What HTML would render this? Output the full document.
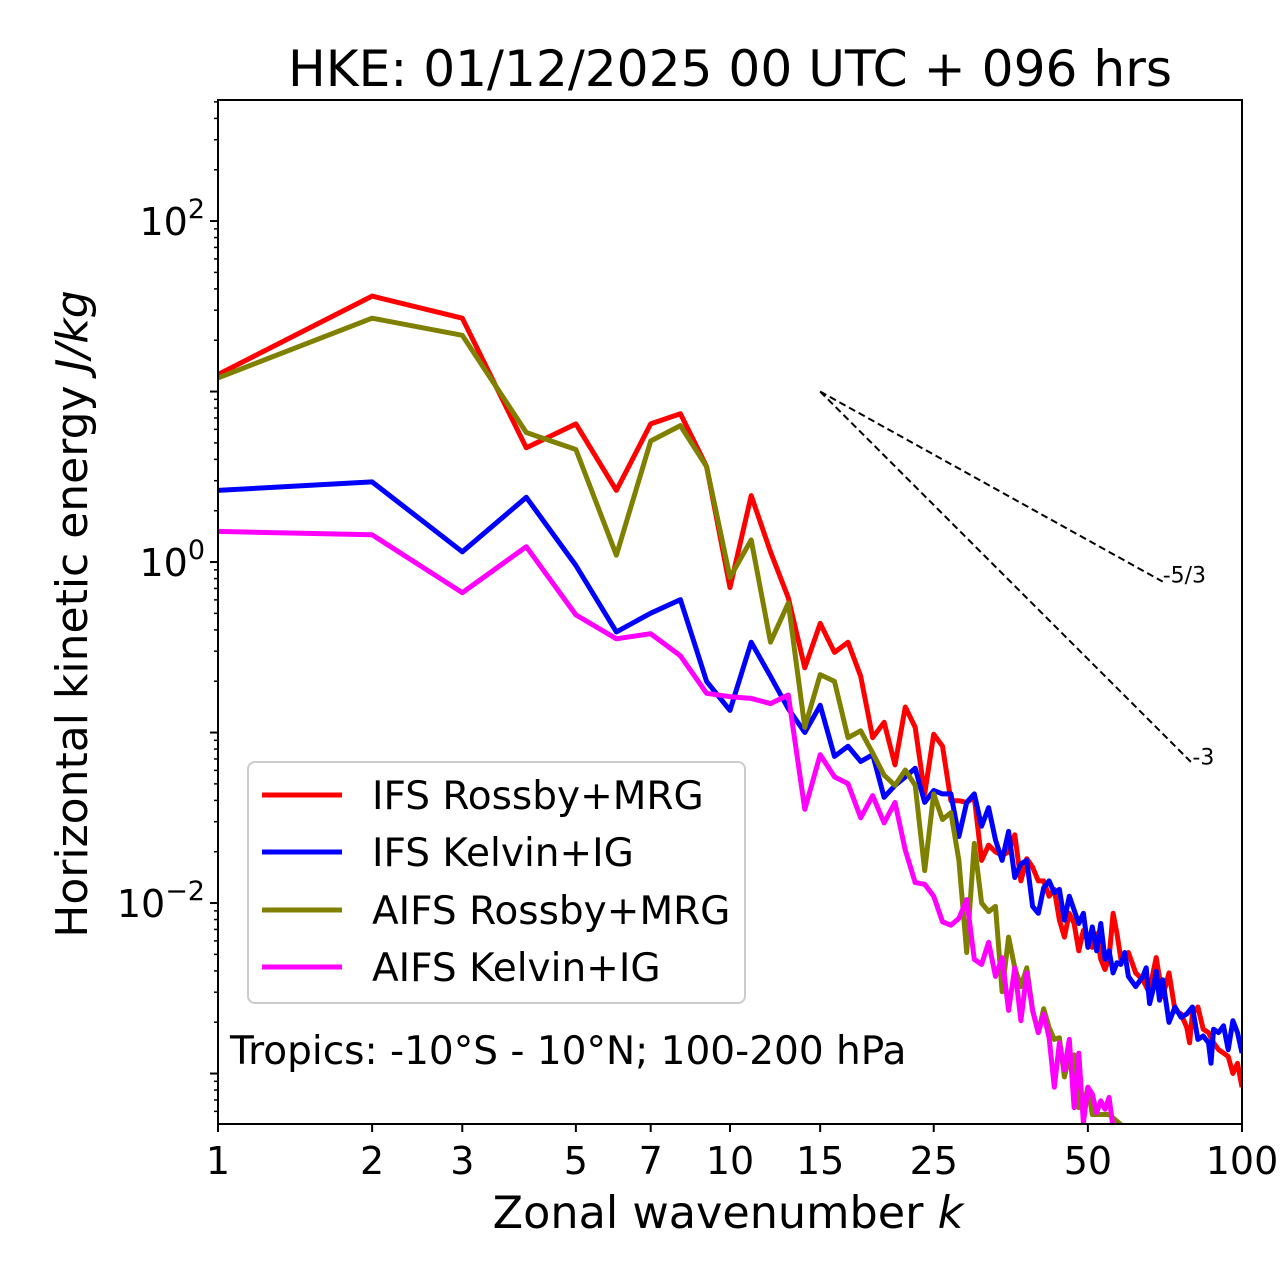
<!DOCTYPE html>
<html><head><meta charset="utf-8"><style>
html,body{margin:0;padding:0;background:#fff;}
svg{display:block;font-family:"DejaVu Sans","Liberation Sans",sans-serif;}
</style></head><body>
<svg id="chart" width="1280" height="1288" viewBox="0 0 1280 1288" xmlns="http://www.w3.org/2000/svg">
<rect width="1280" height="1288" fill="#fff"/>
<text x="730" y="86" font-size="50.2" text-anchor="middle">HKE: 01/12/2025 00 UTC + 096 hrs</text>
<g id="ticks"></g>
<g id="series" clip-path="url(#clip)"></g>
<defs><clipPath id="clip"><rect x="218" y="100" width="1024" height="1024"/></clipPath></defs>
<g id="refs"></g>
<rect x="218" y="100" width="1024" height="1024" fill="none" stroke="#000" stroke-width="2"/>
<text x="728" y="1228" font-size="44.5" text-anchor="middle">Zonal wavenumber <tspan font-style="italic">k</tspan></text>
<text transform="translate(87,614) rotate(-90)" font-size="44" text-anchor="middle">Horizontal kinetic energy <tspan font-style="italic">J/kg</tspan></text>
<g>
<rect x="248" y="762" width="497" height="241" rx="7" fill="#fff" fill-opacity="0.8" stroke="#ccc" stroke-width="2"/>
<g id="legend-items"></g>
</g>
<text x="230" y="1064" font-size="39">Tropics: -10°S - 10°N; 100-200 hPa</text>
</svg>
<script>
const xTickValues=[1,2,3,5,7,10,15,25,50,100];
const xTickLabels=["1","2","3","5","7","10","15","25","50","100"];
const yTickExps=[-2,0,2];
const seriesNames=["IFS Rossby+MRG","IFS Kelvin+IG","AIFS Rossby+MRG","AIFS Kelvin+IG"];
const seriesColors=["#ff0000","#0000ff","#808000","#ff00ff"];
const refSlopes=[-5/3,-3];
const refLabels=["-5/3","-3"];
const refStartK=15, refStartE=10;
const refEndK=[70,80];

const ifsRossbyK=[1,2,3,4,5,6,7,8,9,10,11,12,13,14,15,16,17,18,19,20,21,22,23,24,25,26,27,28,29,30,31,32,33,34,35,36,37,38,39,40,41,42,43,44,45,46,47,48,49,50,51,52,53,54,55,56,57,58,59,60,62,64,66,67,68,70,72,74,76,78,79,80,82,84,86,88,90,92,94,96,98,100];
const ifsRossbyLogE=[1.10,1.56,1.43,0.67,0.81,0.42,0.81,0.87,0.56,-0.15,0.39,0.06,-0.21,-0.62,-0.36,-0.53,-0.47,-0.67,-1.03,-0.94,-1.19,-0.85,-0.97,-1.36,-1.01,-1.08,-1.40,-1.40,-1.41,-1.38,-1.75,-1.66,-1.70,-1.72,-1.70,-1.60,-1.87,-1.74,-1.79,-1.87,-1.87,-1.96,-1.92,-2.10,-2.20,-2.06,-2.12,-2.28,-2.16,-2.22,-2.26,-2.18,-2.33,-2.39,-2.32,-2.06,-2.18,-2.33,-2.32,-2.29,-2.41,-2.45,-2.53,-2.41,-2.32,-2.55,-2.41,-2.63,-2.65,-2.73,-2.82,-2.65,-2.61,-2.74,-2.76,-2.82,-2.86,-2.88,-2.90,-3.00,-2.94,-3.08];
const ifsKelvinK=[1,2,3,4,5,6,7,8,9,10,11,12,13,14,15,16,17,18,19,20,21,22,23,24,25,26,27,28,29,30,31,32,33,34,35,36,37,38,39,40,41,42,43,44,45,46,47,48,49,50,51,52,53,54,55,56,57,58,59,60,62,64,65,66,67,68,69,70,72,74,76,78,80,82,84,86,87,88,90,92,94,96,98,100];
const ifsKelvinLogE=[0.42,0.47,0.06,0.38,-0.02,-0.41,-0.30,-0.22,-0.70,-0.87,-0.47,-0.67,-0.86,-1.00,-0.84,-1.14,-1.08,-1.17,-1.13,-1.38,-1.31,-1.26,-1.21,-1.41,-1.34,-1.36,-1.36,-1.61,-1.41,-1.36,-1.55,-1.44,-1.63,-1.75,-1.58,-1.85,-1.77,-1.75,-2.02,-2.06,-1.91,-1.87,-1.94,-1.92,-2.10,-1.96,-2.04,-2.12,-2.06,-2.26,-2.14,-2.28,-2.12,-2.33,-2.28,-2.41,-2.35,-2.36,-2.29,-2.43,-2.49,-2.43,-2.38,-2.59,-2.51,-2.40,-2.57,-2.45,-2.70,-2.61,-2.67,-2.65,-2.61,-2.80,-2.78,-2.82,-2.94,-2.74,-2.76,-2.72,-2.86,-2.69,-2.76,-2.88];
const aifsRossbyK=[1,2,3,4,5,6,7,8,9,10,11,12,13,14,15,16,17,18,19,20,21,22,23,24,25,26,27,28,29,30,31,32,33,34,35,36,37,38,39,40,41,42,43,44,45,46,47,48,49,50,51,52,55,58,60];
const aifsRossbyLogE=[1.08,1.43,1.33,0.76,0.66,0.04,0.71,0.80,0.56,-0.09,0.13,-0.47,-0.24,-0.97,-0.66,-0.70,-1.03,-0.99,-1.12,-1.25,-1.31,-1.22,-1.31,-1.81,-1.36,-1.51,-1.47,-1.75,-2.29,-1.65,-2.00,-2.05,-2.02,-2.52,-2.20,-2.38,-2.49,-2.38,-2.63,-2.76,-2.62,-2.73,-2.80,-2.79,-3.02,-2.90,-2.89,-3.20,-3.20,-3.08,-3.24,-3.24,-3.24,-3.30,-3.40];
const aifsKelvinK=[1,2,3,4,5,6,7,8,9,10,11,12,13,14,15,16,17,18,19,20,21,22,23,24,25,26,27,28,29,30,31,32,33,34,35,36,37,38,39,40,41,42,43,44,45,46,47,48,49,50,51,52,53,54,55,56,57];
const aifsKelvinLogE=[0.18,0.16,-0.18,0.09,-0.31,-0.45,-0.42,-0.55,-0.77,-0.79,-0.80,-0.83,-0.78,-1.45,-1.13,-1.26,-1.30,-1.50,-1.37,-1.53,-1.41,-1.69,-1.88,-1.89,-1.96,-2.11,-2.13,-2.09,-1.98,-2.33,-2.36,-2.23,-2.43,-2.32,-2.63,-2.38,-2.69,-2.41,-2.63,-2.76,-2.65,-2.79,-3.08,-2.82,-2.98,-2.80,-3.20,-2.88,-3.29,-3.08,-3.12,-3.23,-3.16,-3.21,-3.14,-3.32,-3.40];

const NS="http://www.w3.org/2000/svg";
const X0=218,X1=1242,Y0=100,Y1=1124;
const yMinExp=-3.296, yMaxExp=2.710;
function xs(k){return X0+(Math.log10(k)/2)*(X1-X0);}
function ysLog(le){return Y1-(le-yMinExp)/(yMaxExp-yMinExp)*(Y1-Y0);}
function ys(e){return ysLog(Math.log10(e));}
function mk(tag,attrs,parent){const el=document.createElementNS(NS,tag);for(const a in attrs)el.setAttribute(a,attrs[a]);parent.appendChild(el);return el;}

const ticks=document.getElementById('ticks');
xTickValues.forEach((v,i)=>{
  const x=xs(v);
  const t=mk('line',{x1:x,x2:x,y1:Y1,y2:Y1+8,stroke:'#000','stroke-width':2},ticks);
  
  
  const l=mk('text',{x:x,y:1174,'font-size':38,'text-anchor':'middle'},ticks);
  l.textContent=xTickLabels[i];
  
  
});
for(let e=-4;e<=3;e++){
  for(let m=1;m<10;m++){
    const le=e+Math.log10(m);
    if(le<yMinExp||le>yMaxExp)continue;
    const y=ysLog(le);
    const major=(m===1);
    const t=mk('line',{x1:X0-(major?8:4),x2:X0,y1:y,y2:y,stroke:'#000','stroke-width':major?2:1.5},ticks);
    
    
  }
}
yTickExps.forEach(e=>{
  const y=ysLog(e);
  const l=mk('text',{x:205,y:y+14,'font-size':38,'text-anchor':'end'},ticks);
  l.innerHTML='10<tspan dy="-17" font-size="27">'+(e<0?'\u2212'+(-e):e)+'</tspan>';
  
  
});

const sg=document.getElementById('series');
const allK=[ifsRossbyK,ifsKelvinK,aifsRossbyK,aifsKelvinK];
const allE=[ifsRossbyLogE,ifsKelvinLogE,aifsRossbyLogE,aifsKelvinLogE];
const seriesIds=['ifs-rossby-line','ifs-kelvin-line','aifs-rossby-line','aifs-kelvin-line'];
for(let i=0;i<4;i++){
  const pts=allK[i].map((k,j)=>xs(k).toFixed(1)+','+ysLog(allE[i][j]).toFixed(1)).join(' ');
  const p=mk('polyline',{points:pts,fill:'none',stroke:seriesColors[i],'stroke-width':5,'stroke-linejoin':'round'},sg);
  
  
}

const rg=document.getElementById('refs');
refSlopes.forEach((s,i)=>{
  const x1=xs(refStartK),y1=ys(refStartE);
  const e2=refStartE*Math.pow(refEndK[i]/refStartK,s);
  const x2=xs(refEndK[i]),y2=ys(e2);
  const l=mk('line',{x1:x1,y1:y1,x2:x2,y2:y2,stroke:'#000','stroke-width':2,'stroke-dasharray':'7,4'},rg);
  
  
  const t=mk('text',{x:x2,y:y2+1,'font-size':22},rg);
  t.textContent=refLabels[i];
  
  
});

const lg=document.getElementById('legend-items');
const legendRowsY=[795,852,910,967];
seriesNames.forEach((n,i)=>{
  const l=mk('line',{x1:262,x2:342,y1:legendRowsY[i],y2:legendRowsY[i],stroke:seriesColors[i],'stroke-width':5},lg);
  
  
  const t=mk('text',{x:372,y:legendRowsY[i]+14,'font-size':39},lg);
  t.textContent=n;
  
  
});
</script>
</body></html>
